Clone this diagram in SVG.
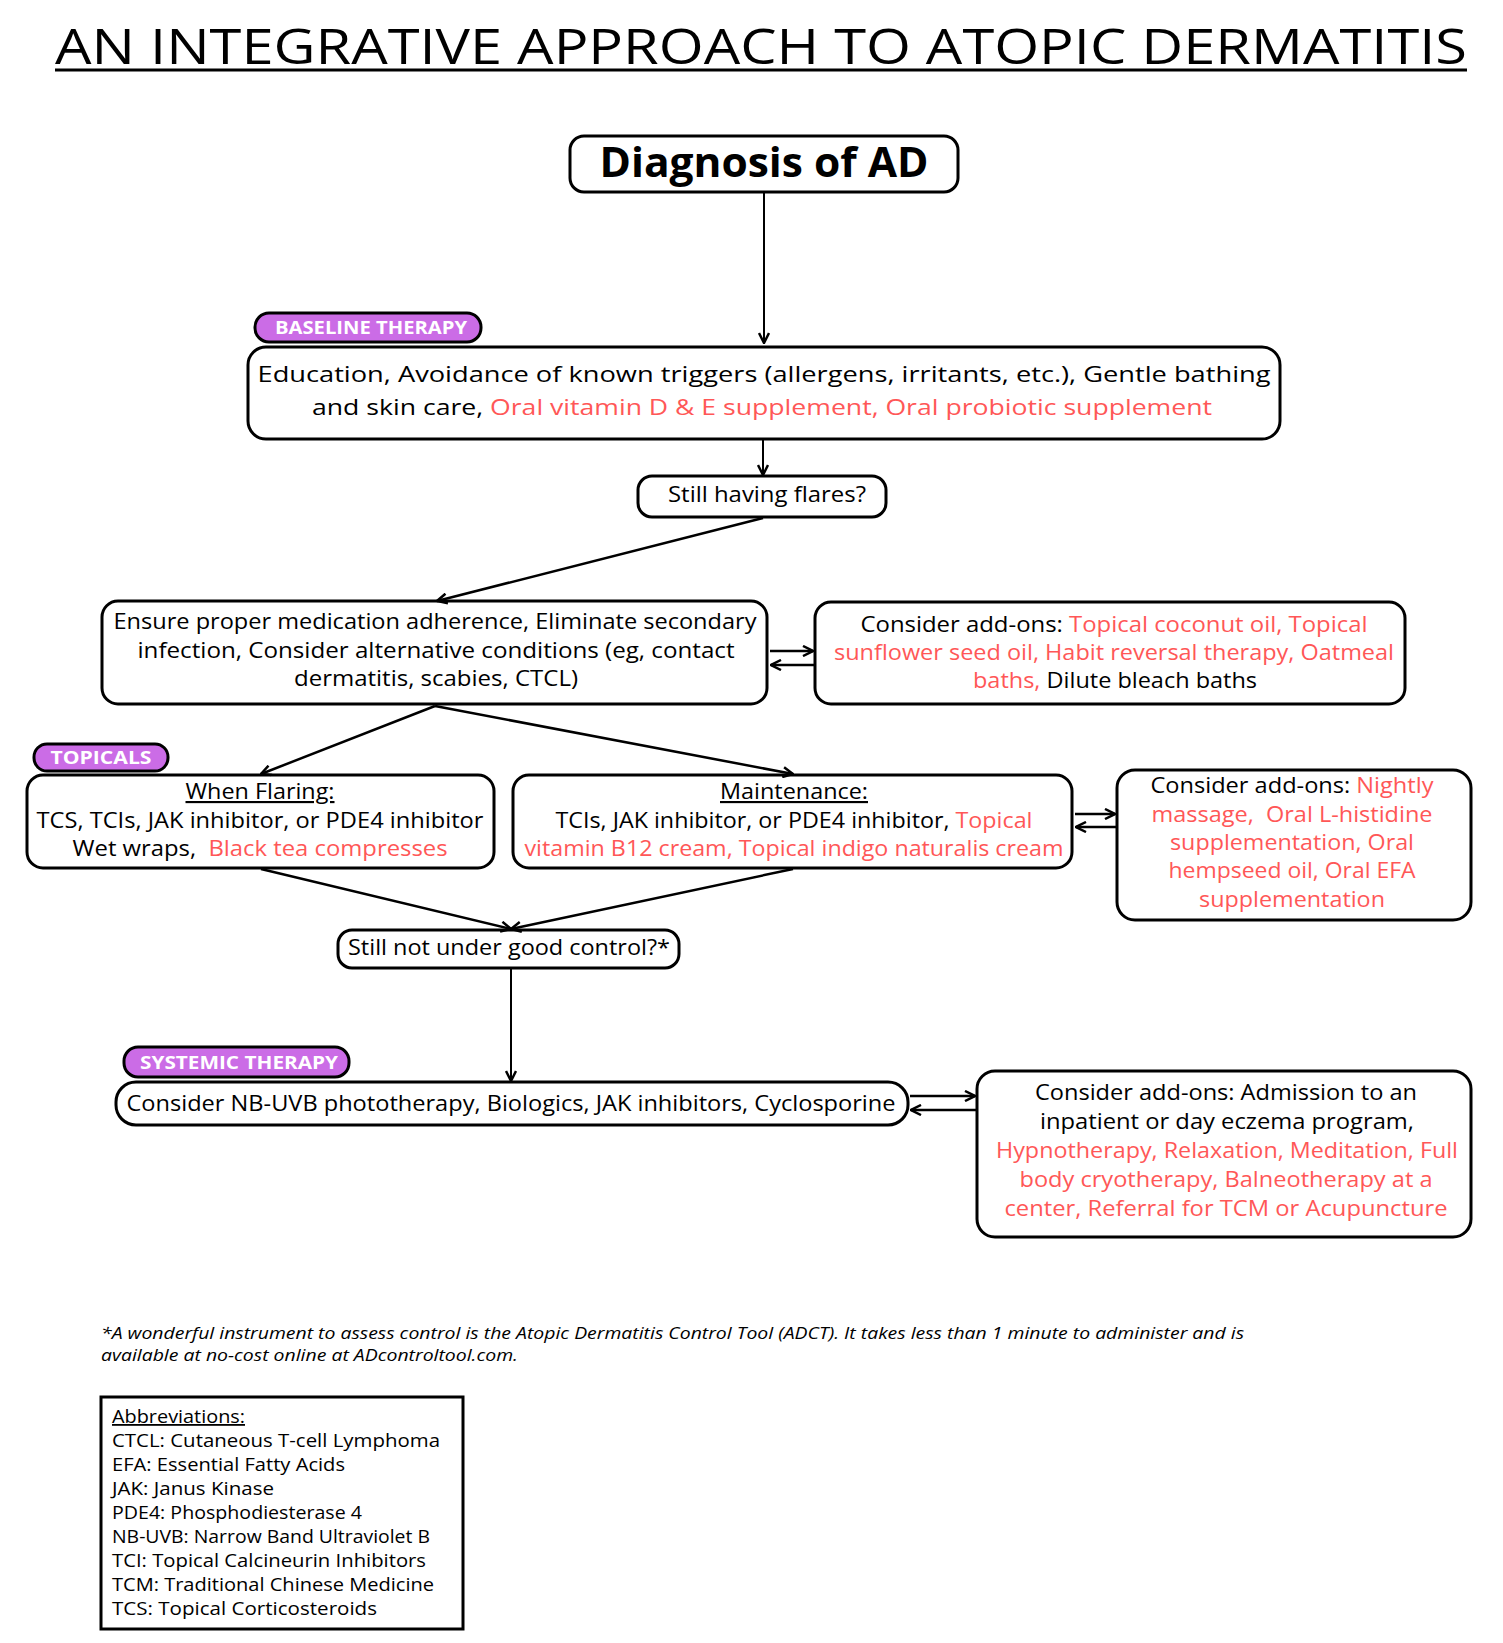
<svg xmlns="http://www.w3.org/2000/svg" width="1503" height="1643" viewBox="0 0 1503 1643">
<defs>
<style>
.box{fill:#fff;stroke:#000;stroke-width:3}
.badge{fill:#CB6CE6;stroke:#000;stroke-width:3}
.t{font-family:"Open Sans","Liberation Sans",sans-serif;font-size:21.5px;fill:#000;text-anchor:middle}
.r{fill:#FF5757}
.bt{font-family:"Open Sans","Liberation Sans",sans-serif;font-weight:700;font-size:18px;fill:#fff;text-anchor:middle}
.ab{font-family:"Open Sans","Liberation Sans",sans-serif;font-size:18px;fill:#000}
.fn{font-family:"Open Sans","Liberation Sans",sans-serif;font-size:16.5px;font-style:italic;fill:#000}
.conn line{stroke:#000;stroke-width:2.5;marker-end:url(#ah)}
</style>
<marker id="ah" viewBox="0 0 12 12" refX="11" refY="6" markerWidth="12" markerHeight="12" markerUnits="userSpaceOnUse" orient="auto">
<path d="M1,1 L11,6 L1,11" fill="none" stroke="#000" stroke-width="2.5"/>
</marker>
</defs>
<rect width="1503" height="1643" fill="#fff"/>

<g id="title">
<text x="761" y="64" font-family="'Open Sans','Liberation Sans',sans-serif" font-size="50" text-anchor="middle" textLength="1412" lengthAdjust="spacingAndGlyphs" fill="#000">AN INTEGRATIVE APPROACH TO ATOPIC DERMATITIS</text>
<line x1="55" y1="70" x2="1467" y2="70" stroke="#000" stroke-width="3"/>
</g>

<g id="diagnosis">
<rect class="box" x="570" y="136" width="388" height="56" rx="14"/>
<text x="764" y="177" font-family="'Open Sans','Liberation Sans',sans-serif" font-weight="700" font-size="42" text-anchor="middle" textLength="329" lengthAdjust="spacingAndGlyphs">Diagnosis of AD</text>
</g>

<g id="badge-baseline">
<rect class="badge" x="255" y="313" width="226" height="29" rx="14"/>
<text class="bt" x="371" y="334" textLength="192" lengthAdjust="spacingAndGlyphs">BASELINE THERAPY</text>
</g>

<g id="baseline">
<rect class="box" x="248" y="347" width="1032" height="92" rx="18"/>
<text class="t" x="764" y="382" textLength="1013" lengthAdjust="spacingAndGlyphs">Education, Avoidance of known triggers (allergens, irritants, etc.), Gentle bathing</text>
<text class="t" x="762" y="415" textLength="900" lengthAdjust="spacingAndGlyphs">and skin care, <tspan class="r">Oral vitamin D &amp; E supplement, Oral probiotic supplement</tspan></text>
</g>

<g id="flares">
<rect class="box" x="638" y="476" width="248" height="41" rx="14"/>
<text class="t" x="767" y="502" textLength="198" lengthAdjust="spacingAndGlyphs">Still having flares?</text>
</g>

<g id="ensure">
<rect class="box" x="102" y="601" width="665" height="103" rx="16"/>
<text class="t" x="435" y="629" textLength="643" lengthAdjust="spacingAndGlyphs">Ensure proper medication adherence, Eliminate secondary</text>
<text class="t" x="436" y="658" textLength="597" lengthAdjust="spacingAndGlyphs">infection, Consider alternative conditions (eg, contact</text>
<text class="t" x="436" y="686" textLength="284" lengthAdjust="spacingAndGlyphs">dermatitis, scabies, CTCL)</text>
</g>

<g id="addons1">
<rect class="box" x="815" y="602" width="590" height="102" rx="16"/>
<text class="t" x="1114" y="632" textLength="507" lengthAdjust="spacingAndGlyphs">Consider add-ons: <tspan class="r">Topical coconut oil, Topical</tspan></text>
<text class="t r" x="1114" y="660" textLength="560" lengthAdjust="spacingAndGlyphs">sunflower seed oil, Habit reversal therapy, Oatmeal</text>
<text class="t" x="1115" y="688" textLength="284" lengthAdjust="spacingAndGlyphs"><tspan class="r">baths,</tspan> Dilute bleach baths</text>
</g>

<g id="badge-topicals">
<rect class="badge" x="34" y="744" width="134" height="27" rx="13"/>
<text class="bt" x="101" y="764" textLength="101" lengthAdjust="spacingAndGlyphs">TOPICALS</text>
</g>

<g id="flaring">
<rect class="box" x="27" y="775" width="467" height="93" rx="16"/>
<text class="t" x="260" y="799" text-decoration="underline" textLength="149" lengthAdjust="spacingAndGlyphs">When Flaring:</text>
<text class="t" x="260" y="828" textLength="447" lengthAdjust="spacingAndGlyphs">TCS, TCIs, JAK inhibitor, or PDE4 inhibitor</text>
<text class="t" x="260" y="856" textLength="375" lengthAdjust="spacingAndGlyphs" xml:space="preserve">Wet wraps,  <tspan class="r">Black tea compresses</tspan></text>
</g>

<g id="maintenance">
<rect class="box" x="513" y="775" width="559" height="93" rx="16"/>
<text class="t" x="794" y="799" text-decoration="underline" textLength="148" lengthAdjust="spacingAndGlyphs">Maintenance:</text>
<text class="t" x="794" y="828" textLength="477" lengthAdjust="spacingAndGlyphs">TCIs, JAK inhibitor, or PDE4 inhibitor, <tspan class="r">Topical</tspan></text>
<text class="t r" x="794" y="856" textLength="539" lengthAdjust="spacingAndGlyphs">vitamin B12 cream, Topical indigo naturalis cream</text>
</g>

<g id="addons2">
<rect class="box" x="1117" y="770" width="354" height="150" rx="18"/>
<text class="t" x="1292" y="793" textLength="283" lengthAdjust="spacingAndGlyphs">Consider add-ons: <tspan class="r">Nightly</tspan></text>
<text class="t r" x="1292" y="822" textLength="281" lengthAdjust="spacingAndGlyphs" xml:space="preserve">massage,  Oral L-histidine</text>
<text class="t r" x="1292" y="850" textLength="244" lengthAdjust="spacingAndGlyphs">supplementation, Oral</text>
<text class="t r" x="1292" y="878" textLength="247" lengthAdjust="spacingAndGlyphs">hempseed oil, Oral EFA</text>
<text class="t r" x="1292" y="907" textLength="186" lengthAdjust="spacingAndGlyphs">supplementation</text>
</g>

<g id="control">
<rect class="box" x="338" y="930" width="341" height="38" rx="14"/>
<text class="t" x="509" y="955" textLength="322" lengthAdjust="spacingAndGlyphs">Still not under good control?*</text>
</g>

<g id="badge-systemic">
<rect class="badge" x="124" y="1047" width="225" height="30" rx="14"/>
<text class="bt" x="239" y="1069" textLength="198" lengthAdjust="spacingAndGlyphs">SYSTEMIC THERAPY</text>
</g>

<g id="systemic">
<rect class="box" x="116" y="1082" width="792" height="43" rx="20"/>
<text class="t" x="511" y="1111" textLength="769" lengthAdjust="spacingAndGlyphs">Consider NB-UVB phototherapy, Biologics, JAK inhibitors, Cyclosporine</text>
</g>

<g id="addons3">
<rect class="box" x="977" y="1071" width="494" height="166" rx="18"/>
<text class="t" x="1226" y="1100" textLength="382" lengthAdjust="spacingAndGlyphs">Consider add-ons: Admission to an</text>
<text class="t" x="1227" y="1129" textLength="374" lengthAdjust="spacingAndGlyphs">inpatient or day eczema program,</text>
<text class="t r" x="1227" y="1158" textLength="462" lengthAdjust="spacingAndGlyphs">Hypnotherapy, Relaxation, Meditation, Full</text>
<text class="t r" x="1226" y="1187" textLength="413" lengthAdjust="spacingAndGlyphs">body cryotherapy, Balneotherapy at a</text>
<text class="t r" x="1226" y="1216" textLength="443" lengthAdjust="spacingAndGlyphs">center, Referral for TCM or Acupuncture</text>
</g>

<g id="footnote">
<text class="fn" x="101" y="1339" textLength="1143" lengthAdjust="spacingAndGlyphs">*A wonderful instrument to assess control is the Atopic Dermatitis Control Tool (ADCT). It takes less than 1 minute to administer and is</text>
<text class="fn" x="101" y="1361" textLength="417" lengthAdjust="spacingAndGlyphs">available at no-cost online at ADcontroltool.com.</text>
</g>

<g id="abbreviations">
<rect x="101" y="1397" width="362" height="232" fill="#fff" stroke="#000" stroke-width="3"/>
<text class="ab" x="112" y="1423" text-decoration="underline" textLength="133" lengthAdjust="spacingAndGlyphs">Abbreviations:</text>
<text class="ab" x="112" y="1447" textLength="328" lengthAdjust="spacingAndGlyphs">CTCL: Cutaneous T-cell Lymphoma</text>
<text class="ab" x="112" y="1471" textLength="233" lengthAdjust="spacingAndGlyphs">EFA: Essential Fatty Acids</text>
<text class="ab" x="112" y="1495" textLength="162" lengthAdjust="spacingAndGlyphs">JAK: Janus Kinase</text>
<text class="ab" x="112" y="1519" textLength="250" lengthAdjust="spacingAndGlyphs">PDE4: Phosphodiesterase 4</text>
<text class="ab" x="112" y="1543" textLength="318" lengthAdjust="spacingAndGlyphs">NB-UVB: Narrow Band Ultraviolet B</text>
<text class="ab" x="112" y="1567" textLength="314" lengthAdjust="spacingAndGlyphs">TCI: Topical Calcineurin Inhibitors</text>
<text class="ab" x="112" y="1591" textLength="322" lengthAdjust="spacingAndGlyphs">TCM: Traditional Chinese Medicine</text>
<text class="ab" x="112" y="1615" textLength="265" lengthAdjust="spacingAndGlyphs">TCS: Topical Corticosteroids</text>
</g>

<g id="connectors" class="conn">
<line x1="764" y1="192" x2="764" y2="343" style="stroke-width:2"/>
<line x1="763" y1="439" x2="763" y2="475" style="stroke-width:2"/>
<line x1="763" y1="518" x2="437" y2="601"/>
<line x1="770" y1="651" x2="813" y2="651"/>
<line x1="814" y1="665" x2="771" y2="665"/>
<line x1="435" y1="706" x2="261" y2="774"/>
<line x1="435" y1="706" x2="793" y2="774"/>
<line x1="1075" y1="814" x2="1115" y2="814"/>
<line x1="1116" y1="827" x2="1076" y2="827"/>
<line x1="261" y1="869" x2="511" y2="929"/>
<line x1="793" y1="869" x2="511" y2="929"/>
<line x1="511" y1="968" x2="511" y2="1081" style="stroke-width:2"/>
<line x1="910" y1="1096" x2="975" y2="1096"/>
<line x1="976" y1="1110" x2="911" y2="1110"/>
</g>
</svg>
